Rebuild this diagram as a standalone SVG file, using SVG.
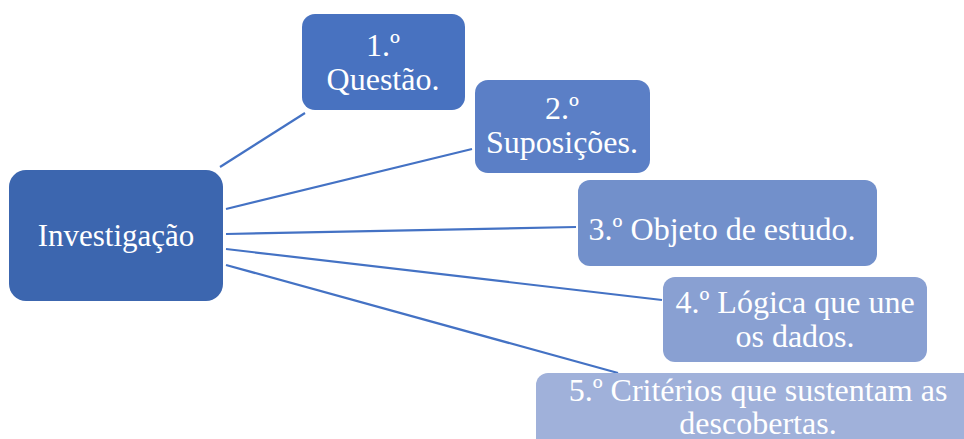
<svg xmlns="http://www.w3.org/2000/svg" width="964" height="439" viewBox="0 0 964 439">
  <style>
    .lbl { font-family: 'Liberation Serif', 'Times New Roman', serif; font-size: 32px; fill: #ffffff; text-anchor: middle; }
    .link { stroke: #4472C4; stroke-width: 2.2; fill: none; }
  </style>
  <rect width="964" height="439" fill="#ffffff"/>
  <g id="connectors">
    <line class="link" x1="220" y1="167" x2="305" y2="113"/>
    <line class="link" x1="226" y1="209" x2="472" y2="149"/>
    <line class="link" x1="226" y1="234" x2="576" y2="227"/>
    <line class="link" x1="226" y1="249" x2="662" y2="300"/>
    <line class="link" x1="226" y1="265" x2="618" y2="373"/>
  </g>
  <g id="investigacao">
    <rect x="9" y="170" width="214" height="131" rx="17" fill="#3C66AF"/>
    <text class="lbl" x="116" y="246" style="font-size:31px">Investigação</text>
  </g>
  <g id="questao">
    <rect x="302" y="14" width="163" height="96" rx="13" fill="#4872C0"/>
    <text class="lbl" x="383" y="56">1.º</text>
    <text class="lbl" x="383" y="90">Questão.</text>
  </g>
  <g id="suposicoes">
    <rect x="475" y="80" width="175" height="93" rx="13" fill="#5B7FC6"/>
    <text class="lbl" x="562" y="119">2.º</text>
    <text class="lbl" x="562" y="153">Suposições.</text>
  </g>
  <g id="objeto">
    <rect x="578" y="180" width="299" height="86" rx="12" fill="#7290CB"/>
    <text class="lbl" x="722" y="240">3.º Objeto de estudo.</text>
  </g>
  <g id="logica">
    <rect x="663" y="277" width="264" height="85" rx="12" fill="#89A0D2"/>
    <text class="lbl" x="795" y="313">4.º Lógica que une</text>
    <text class="lbl" x="795" y="347">os dados.</text>
  </g>
  <g id="criterios">
    <rect x="536" y="373" width="440" height="80" rx="12" fill="#A0B1DA"/>
    <text class="lbl" x="758" y="401">5.º Critérios que sustentam as</text>
    <text class="lbl" x="758" y="434">descobertas.</text>
  </g>
</svg>
